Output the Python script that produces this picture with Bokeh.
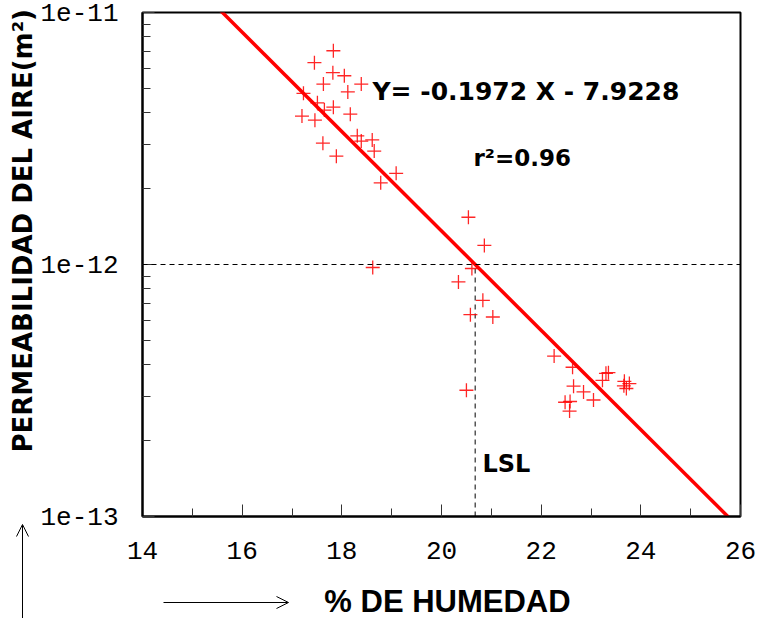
import math
from bokeh.plotting import figure
from bokeh.models import (FixedTicker, CustomJSTickFormatter, Label, Span, Arrow,
                          OpenHead, ColumnDataSource, Title)
from bokeh.embed import file_html
from bokeh.resources import INLINE

# ---- data ----
humedad = [17.83, 17.45, 17.82, 18.05, 17.63, 18.39, 18.12, 17.23, 17.51, 17.83,
           17.65, 18.17, 17.20, 17.46, 18.31, 18.39, 18.61, 18.65, 17.62, 17.89,
           19.09, 18.78,
           20.54, 20.86, 20.61, 18.62, 20.34, 20.83, 20.58, 21.03, 20.50,
           22.26, 22.63, 23.30, 23.35, 23.23, 23.67, 23.77, 23.66, 23.71, 22.65,
           22.85, 23.05, 22.48, 22.58, 22.57]
permeabilidad = [7.05e-12, 6.32e-12, 5.77e-12, 5.61e-12, 5.20e-12, 5.20e-12, 4.84e-12,
                 4.78e-12, 4.38e-12, 4.21e-12, 4.10e-12, 3.95e-12, 3.88e-12, 3.74e-12,
                 3.24e-12, 3.09e-12, 3.12e-12, 2.82e-12, 3.03e-12, 2.69e-12,
                 2.30e-12, 2.11e-12,
                 1.54e-12, 1.19e-12, 9.64e-13, 9.73e-13, 8.53e-13, 7.21e-13, 6.32e-13,
                 6.19e-13, 3.17e-13,
                 4.33e-13, 3.91e-13, 3.70e-13, 3.72e-13, 3.47e-13, 3.44e-13, 3.37e-13,
                 3.30e-13, 3.22e-13, 3.29e-13, 3.12e-13, 2.90e-13, 2.84e-13, 2.86e-13,
                 2.62e-13]

slope = -0.1972
intercept = -7.9228
r2 = 0.96
limit_perm = 1e-12

x_major = [14, 16, 18, 20, 22, 24, 26]
x_minor = [15, 17, 19, 21, 23, 25]
y_major = [1e-13, 1e-12, 1e-11]
y_minor = [k * 10.0 ** e for e in (-13, -12) for k in range(2, 10)]

fit_x = [14.0, 26.0]
fit_y = [10 ** (slope * x + intercept) for x in fit_x]
lsl_x = (math.log10(limit_perm) - intercept) / slope

W, H = 758, 618
p = figure(width=W, height=H, x_range=(14, 26), y_range=(1e-13, 1e-11),
           y_axis_type="log", output_backend="svg", toolbar_location=None,
           min_border_left=142, min_border_right=18, min_border_top=12,
           min_border_bottom=102)
p.grid.visible = False
p.outline_line_color = "black"
p.outline_line_width = 2
p.outline_line_alpha = 1.0
p.background_fill_color = "white"

for ax in (p.xaxis, p.yaxis):
    ax.axis_line_color = "black"
    ax.axis_line_width = 2
    ax.major_tick_in = 12
    ax.major_tick_out = 0
    ax.minor_tick_in = 8
    ax.minor_tick_out = 0
    ax.major_tick_line_color = "#333333"
    ax.minor_tick_line_color = "#333333"
    ax.major_label_text_font = "Liberation Mono"
    ax.major_label_text_font_size = "26px"
    ax.major_label_text_color = "black"

p.xaxis.ticker = FixedTicker(ticks=x_major, minor_ticks=x_minor)
p.xaxis.major_label_standoff = 25
p.yaxis.ticker = FixedTicker(ticks=y_major, minor_ticks=y_minor)
p.yaxis.formatter = CustomJSTickFormatter(code="return tick.toExponential(0);")
p.yaxis.major_label_standoff = 24

# reference lines
p.add_layout(Span(location=limit_perm, dimension="width", line_color="black",
                  line_dash="5 4", line_width=1))
p.line([lsl_x, lsl_x], [1e-13, limit_perm], line_color="black",
       line_dash="5 4", line_width=1)

src = ColumnDataSource(dict(x=humedad, y=permeabilidad))
p.scatter("x", "y", source=src, marker="cross", size=14, line_color="red",
          line_width=1.3, line_alpha=0.85)
p.line(fit_x, fit_y, line_color="red", line_width=3.5)

bold = "DejaVu Sans"


def canvas_label(x, y, text, size, **kw):
    opts = dict(x=x, y=y, x_units="canvas", y_units="canvas", text=text,
                text_font=bold, text_font_style="bold", text_font_size=size,
                text_color="black", text_baseline="alphabetic")
    opts.update(kw)
    p.add_layout(Label(**opts))


canvas_label(372, 91, "Y= -0.1972 X - 7.9228", "25px")
canvas_label(473, 157, "r\u00b2=%.2f" % r2, "23px")
canvas_label(482, 463, "LSL", "24px")

# y-axis title as a side-panel title
p.add_layout(Title(text="PERMEABILIDAD DEL AIRE(m\u00b2)", align="left",
                   offset=64, text_font=bold, text_font_style="bold",
                   text_font_size="26px", text_color="black", standoff=0), "left")

# transparent overlay canvas (pixel coordinates) for the x title and the two
# guide arrows, placed on top of the chart as a separate root
ov = figure(width=W, height=H, x_range=(0, W), y_range=(H, 0),
            output_backend="svg", toolbar_location=None,
            x_axis_location=None, y_axis_location=None, min_border=0,
            styles={"position": "absolute", "left": "0px", "top": "0px"})
ov.grid.visible = False
ov.outline_line_color = None
ov.background_fill_alpha = 0
ov.border_fill_alpha = 0
ov.add_layout(Label(x=447, y=601, text="% DE HUMEDAD", text_align="center",
                    text_baseline="alphabetic", text_font="Liberation Sans",
                    text_font_style="bold", text_font_size="31px",
                    text_color="black"))
ov.add_layout(Arrow(x_start=22, y_start=H, x_end=22, y_end=524,
                    line_color="black", line_width=1,
                    end=OpenHead(size=12, line_color="black", line_width=1)))
ov.add_layout(Arrow(x_start=163, y_start=602, x_end=288, y_end=602,
                    line_color="black", line_width=1,
                    end=OpenHead(size=12, line_color="black", line_width=1)))

open("out.html", "w").write(file_html([p, ov], INLINE))
